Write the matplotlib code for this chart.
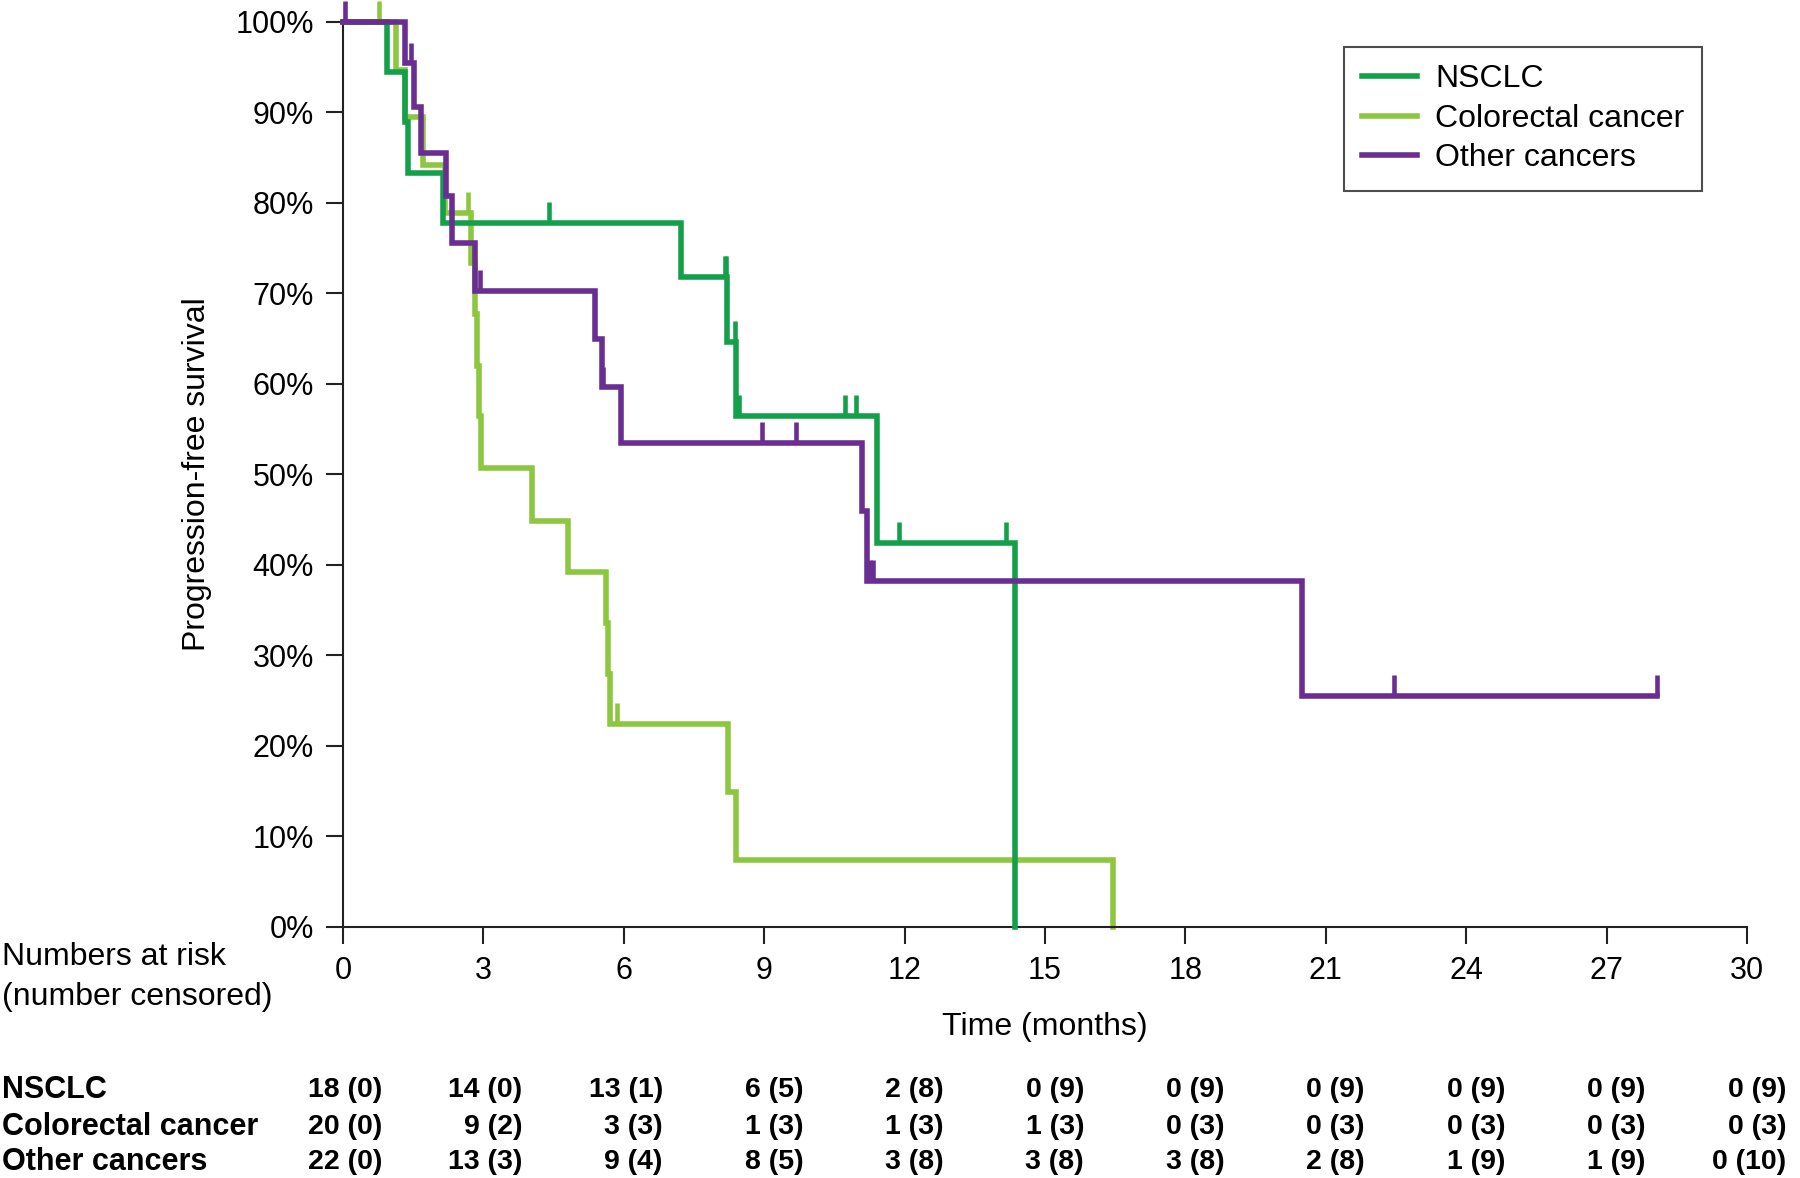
import numpy as np
import matplotlib
matplotlib.use('Agg')
import matplotlib.pyplot as plt
from matplotlib import transforms

plt.rcParams['font.family'] = ['Liberation Sans', 'DejaVu Sans']

# Kaplan-Meier steps: event times (months) and survival after each step (%)
nsclc_t = [0, 0.93, 1.32, 1.39, 2.14, 7.22, 8.21, 8.40, 11.42, 14.35]
nsclc_s = [100, 94.4, 88.9, 83.3, 77.8, 71.8, 64.6, 56.5, 42.4, 0]
nsclc_end = 14.35
nsclc_cens = [4.40, 8.16, 8.18, 8.37, 8.46, 10.73, 10.96, 11.89, 14.17]

crc_t = [0, 1.14, 1.32, 1.70, 2.17, 2.74, 2.82, 2.86, 2.90, 2.95,
         4.03, 4.81, 5.63, 5.67, 5.71, 8.22, 8.39, 16.46]
crc_s = [100, 94.7, 89.5, 84.2, 78.9, 73.3, 67.7, 62.0, 56.4, 50.7,
         44.8, 39.2, 33.6, 27.9, 22.4, 14.9, 7.4, 0]
crc_end = 16.46
crc_cens = [0.76, 2.68, 5.86]

other_t = [0, 1.33, 1.52, 1.66, 2.21, 2.32, 2.81, 5.38, 5.53, 5.95,
           11.10, 11.20, 20.50]
other_s = [100, 95.4, 90.6, 85.5, 80.7, 75.5, 70.3, 65.0, 59.6, 53.5,
           45.9, 38.2, 25.5]
other_end = 28.08
other_cens = [0.04, 1.45, 2.93, 5.56, 8.95, 9.69, 11.26, 11.33, 22.45, 28.08]

# numbers at risk table
risk_times = [0, 3, 6, 9, 12, 15, 18, 21, 24, 27, 30]
nsclc_risk = [18, 14, 13, 6, 2, 0, 0, 0, 0, 0, 0]
nsclc_ncens = [0, 0, 1, 5, 8, 9, 9, 9, 9, 9, 9]
crc_risk = [20, 9, 3, 1, 1, 1, 0, 0, 0, 0, 0]
crc_ncens = [0, 2, 3, 3, 3, 3, 3, 3, 3, 3, 3]
other_risk = [22, 13, 9, 8, 3, 3, 3, 2, 1, 1, 0]
other_ncens = [0, 3, 4, 5, 8, 8, 8, 8, 9, 9, 10]

names = ['NSCLC', 'Colorectal cancer', 'Other cancers']
colors = ['#14a04a', '#8dc63f', '#6a2d91']

W, H = 1800, 1178
fig = plt.figure(figsize=(W / 100, H / 100), dpi=100)
ax = fig.add_axes([343 / W, 1 - 927 / H, (1747 - 343) / W, (927 - 21.7) / H])

curves = [(nsclc_t, nsclc_s, nsclc_end, nsclc_cens),
          (crc_t, crc_s, crc_end, crc_cens),
          (other_t, other_s, other_end, other_cens)]
zorders = [3, 2, 4]
handles = []
for (t, s, end, cens), name, col, z in zip(curves, names, colors, zorders):
    t = np.array(t)
    s = np.array(s)
    xs = np.append(t, end)
    ys = np.append(s, s[-1])
    h, = ax.step(xs, ys, where='post', color=col, lw=4.0, label=name,
                 zorder=z, solid_joinstyle='miter', clip_on=False)
    handles.append(h)
    # censor marks: short ticks above the curve
    idx = np.searchsorted(t, cens, side='right') - 1
    lev = s[idx]
    ax.vlines(cens, lev, lev + 2.3, color=col, lw=3.3, zorder=z, clip_on=False)

ax.set_xlim(0, 30)
ax.set_ylim(0, 100)
ax.set_xticks(risk_times)
ax.set_yticks(range(0, 101, 10))
ax.set_yticklabels([f'{v}%' for v in range(0, 101, 10)])
ax.tick_params(labelsize=22, length=12, width=1.5, color='#222222', pad=9)
for side in ['top', 'right']:
    ax.spines[side].set_visible(False)
for side in ['left', 'bottom']:
    ax.spines[side].set_linewidth(1.5)
    ax.spines[side].set_color('#222222')

ax.set_xlabel('Time (months)', fontsize=23, va='center')
ax.xaxis.set_label_coords(0.5, -(1027 - 927) / (927 - 21.7))
ax.set_ylabel('Progression-free survival', fontsize=23, va='center')
ax.yaxis.set_label_coords((197 - 343) / (1747 - 343), 0.5)

leg = fig.legend(handles=handles, loc='upper left',
                 bbox_to_anchor=(1344 / W, 1 - 46.7 / H), fontsize=23,
                 frameon=True, fancybox=False, borderpad=0.55,
                 handlelength=1.75, handletextpad=0.55, labelspacing=0.3,
                 borderaxespad=0)
leg.get_frame().set_edgecolor('#222222')
leg.get_frame().set_linewidth(1.5)

fig.text(2 / W, 1 - 957 / H, 'Numbers at risk', fontsize=23, va='center')
fig.text(2 / W, 1 - 997 / H, '(number censored)', fontsize=23, va='center')

trans = transforms.blended_transform_factory(ax.transData, fig.transFigure) + \
    transforms.ScaledTranslation(39 / 100, 0, fig.dpi_scale_trans)
rows = [(nsclc_risk, nsclc_ncens), (crc_risk, crc_ncens), (other_risk, other_ncens)]
row_y = [1090, 1127, 1162]
for (risk, nc), name, yy in zip(rows, names, row_y):
    fy = 1 - yy / H
    fig.text(2 / W, fy, name, fontsize=22, fontweight='bold', va='center')
    for tt, r, c in zip(risk_times, risk, nc):
        ax.text(tt, fy, f'{r} ({c})', transform=trans, ha='right', va='center',
                fontsize=20.5, fontweight='bold', clip_on=False)

fig.savefig('out.png', dpi=100)
